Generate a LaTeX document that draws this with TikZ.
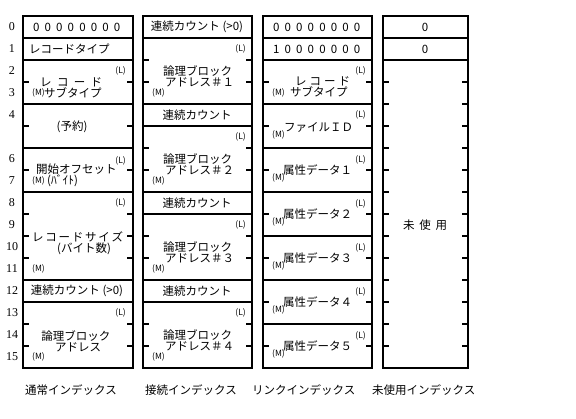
\documentclass[tikz,border=0pt]{standalone}
\usepackage{fontspec}
\setmainfont{Noto Sans CJK JP}
\newfontfamily\numfont{Liberation Serif}
\begin{document}
\begin{tikzpicture}[x=1pt,y=-1pt,
  frame/.style={line width=2pt},
  jp/.style={inner sep=0pt, font=\fontsize{11.5}{11.5}\selectfont},
  lm/.style={inner sep=0pt, font=\fontsize{8.5}{8.5}\selectfont},
  rn/.style={inner sep=0pt, font=\numfont\fontsize{12}{12}\selectfont},
  captxt/.style={inner sep=0pt, anchor=west, font=\fontsize{11.5}{11.5}\selectfont},
]
\useasboundingbox (0,0) rectangle (576,418);
% ---------- frames ----------
\draw[frame] (23,16) rectangle (133,368);
\draw[frame] (143,16) rectangle (252,368);
\draw[frame] (263,16) rectangle (372,368);
\draw[frame] (383,16) rectangle (468,368);
% separators
\foreach \r in {1,2,4,6,8,12,13} \draw[frame] (23,{16+22*\r}) -- (133,{16+22*\r});
\foreach \r in {1,4,5,8,9,12,13} \draw[frame] (143,{16+22*\r}) -- (252,{16+22*\r});
\foreach \r in {1,2,4,6,8,10,12,14} \draw[frame] (263,{16+22*\r}) -- (372,{16+22*\r});
\foreach \r in {1,2} \draw[frame] (383,{16+22*\r}) -- (468,{16+22*\r});
% ticks
\foreach \r in {3,5,7,9,10,11,14,15} {
  \draw[frame] (23,{16+22*\r}) -- ++(6,0); \draw[frame] (133,{16+22*\r}) -- ++(-6,0);}
\foreach \r in {2,3,6,7,10,11,14,15} {
  \draw[frame] (143,{16+22*\r}) -- ++(6,0); \draw[frame] (252,{16+22*\r}) -- ++(-6,0);}
\foreach \r in {3,5,7,9,11,13,15} {
  \draw[frame] (263,{16+22*\r}) -- ++(6,0); \draw[frame] (372,{16+22*\r}) -- ++(-6,0);}
\foreach \r in {3,...,15} {
  \draw[frame] (383,{16+22*\r}) -- ++(6,0); \draw[frame] (468,{16+22*\r}) -- ++(-6,0);}
% ---------- row numbers ----------
\foreach \r in {0,1,2,3,4,6,7,8,9,10,11,12,13,14,15}
  \node[rn] (n\r) at (12,{27+22*\r}) {\r};
% ---------- column 1 ----------
\node[jp, anchor=west] (a0) at (33,27) {\makebox[87pt][s]{0 0 0 0 0 0 0 0}};
\node[jp, anchor=west] (a1) at (29,49) {レコードタイプ};
\node[lm, anchor=east] (a2l) at (126,71) {(L)};
\node[jp, anchor=west] (a2) at (40,82) {\makebox[62pt][s]{レ コ ー ド}};
\node[lm, anchor=west] (a3m) at (32,93) {(M)};
\node[jp, anchor=west] (a3) at (44,93) {サブタイプ};
\node[jp] (a4) at (72,127) {(予約)};
\node[lm, anchor=east] (a6l) at (126,161) {(L)};
\node[jp, anchor=west] (a6) at (36,169) {開始オフセット};
\node[lm, anchor=west] (a7m) at (32,181) {(M)};
\node[jp, anchor=west] (a7) at (47,181) {(ﾊﾞｲﾄ)};
\node[lm, anchor=east] (a8l) at (126,203) {(L)};
\node[jp, anchor=west] (a9) at (32,237) {\makebox[81pt][s]{レ コ ー ド サ イ ズ}};
\node[jp, anchor=west] (a10) at (57,249) {(バイト数)};
\node[lm, anchor=west] (a11m) at (32,269) {(M)};
\node[jp] (a12) at (77,291) {連続カウント (>0)};
\node[lm, anchor=east] (a13l) at (126,313) {(L)};
\node[jp] (a14) at (76,336) {論理ブロック};
\node[jp] (a15) at (78,347) {アドレス};
\node[lm, anchor=west] (a15m) at (32,357) {(M)};
% ---------- column 2 ----------
\node[jp] (b0) at (197,27) {連続カウント (>0)};
\node[lm, anchor=east] (b1l) at (246,49) {(L)};
\node[jp, anchor=west] (b2) at (163,71) {論理ブロック};
\node[jp, anchor=west] (b3) at (165,82) {アドレス＃１};
\node[lm, anchor=west] (b3m) at (152,93) {(M)};
\node[jp] (b4) at (197,115) {連続カウント};
\node[lm, anchor=east] (b5l) at (246,137) {(L)};
\node[jp, anchor=west] (b6) at (163,159) {論理ブロック};
\node[jp, anchor=west] (b7) at (165,170) {アドレス＃２};
\node[lm, anchor=west] (b7m) at (152,181) {(M)};
\node[jp] (b8) at (197,203) {連続カウント};
\node[lm, anchor=east] (b9l) at (246,225) {(L)};
\node[jp, anchor=west] (b10) at (163,247) {論理ブロック};
\node[jp, anchor=west] (b11) at (165,258) {アドレス＃３};
\node[lm, anchor=west] (b11m) at (152,269) {(M)};
\node[jp] (b12) at (197,291) {連続カウント};
\node[lm, anchor=east] (b13l) at (246,313) {(L)};
\node[jp, anchor=west] (b14) at (163,335) {論理ブロック};
\node[jp, anchor=west] (b15) at (165,346) {アドレス＃４};
\node[lm, anchor=west] (b15m) at (152,357) {(M)};
% ---------- column 3 ----------
\node[jp, anchor=west] (c0) at (273,27) {\makebox[87pt][s]{0 0 0 0 0 0 0 0}};
\node[jp, anchor=west] (c1) at (273,49) {\makebox[87pt][s]{1 0 0 0 0 0 0 0}};
\node[lm, anchor=east] (c2l) at (366,71) {(L)};
\node[jp, anchor=west] (c2) at (295,81) {\makebox[55pt][s]{レ コ ー ド}};
\node[lm, anchor=west] (c3m) at (272,93) {(M)};
\node[jp, anchor=west] (c3) at (290,92) {サブタイプ};
\node[lm, anchor=east] (c4l) at (366,115) {(L)};
\node[jp, anchor=west] (c4) at (284,127) {ファイルＩＤ};
\node[lm, anchor=west] (c5m) at (272,135) {(M)};
\foreach \k/\r in {１/6,２/8,３/10,４/12,５/14} {
  \node[lm, anchor=east] (c\r l) at (366,{28+22*\r}) {(L)};
  \node[jp, anchor=west] (c\r) at (283,{38+22*\r}) {属性データ\k};
  \node[lm, anchor=west] (c\r m) at (272,{46+22*\r}) {(M)};
}
% ---------- column 4 ----------
\node[jp] (d0) at (425,27) {0};
\node[jp] (d1) at (425,49) {0};
\node[jp] (d2) at (425,225) {\makebox[44pt][s]{未 使 用}};
% ---------- captions ----------
\node[captxt] (t1) at (25,390) {通常インデックス};
\node[captxt] (t2) at (145,390) {接続インデックス};
\node[captxt] (t3) at (252,390) {リンクインデックス};
\node[captxt] (t4) at (372,390) {未使用インデックス};
\end{tikzpicture}
\end{document}
